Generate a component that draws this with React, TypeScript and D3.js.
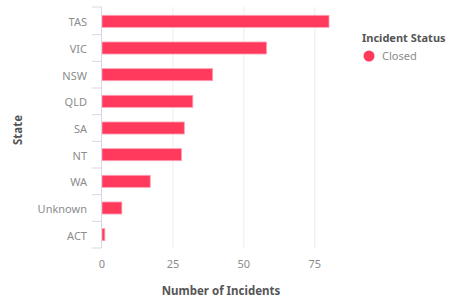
import React, { useRef, useEffect } from 'react';
import * as d3 from 'd3';

const states = ['TAS', 'VIC', 'NSW', 'QLD', 'SA', 'NT', 'WA', 'Unknown', 'ACT'];
const closedCounts = [80, 58, 39, 32, 29, 28, 17, 7, 1];
const xTicks = [0, 25, 50, 75];
const legendTitle = 'Incident Status';
const legendLabels = ['Closed'];

const font = '"Noto Sans", "Open Sans", sans-serif';
const barColor = '#ff3a5c';

const App = () => {
  const ref = useRef<SVGSVGElement>(null);

  useEffect(() => {
    const svg = d3.select(ref.current);
    svg.selectAll('*').remove();

    const x = d3.scaleLinear().domain([0, 80]).range([102, 329]);
    const y = d3.scaleBand().domain(states).range([8, 248]).paddingInner(0.55).paddingOuter(0.275);

    const g = svg.append('g');

    // grid
    g.selectAll('.grid')
      .data(xTicks.slice(1))
      .enter().append('line')
      .attr('x1', d => x(d)).attr('x2', d => x(d))
      .attr('y1', 7).attr('y2', 248)
      .attr('stroke', '#ececec').attr('stroke-width', 1);

    // bars
    g.selectAll('.bar')
      .data(states)
      .enter().append('rect')
      .attr('x', x(0))
      .attr('y', d => y(d)!)
      .attr('width', (d, i) => x(closedCounts[i]) - x(0))
      .attr('height', y.bandwidth())
      .attr('fill', barColor)
      .attr('stroke', '#ff9fb0')
      .attr('stroke-width', 0.8);

    // y axis
    const yAxis = g.append('g');
    yAxis.append('line')
      .attr('x1', 101.5).attr('x2', 101.5).attr('y1', 7).attr('y2', 248)
      .attr('stroke', '#d5d9e6');
    const bounds = states.map(s => y(s)! - (y.step() * y.paddingInner()) / 2).concat([248]);
    bounds[0] = 7;
    yAxis.selectAll('.tick')
      .data(bounds)
      .enter().append('line')
      .attr('x1', 92).attr('x2', 101.5)
      .attr('y1', d => d).attr('y2', d => d)
      .attr('stroke', '#d5d9e6');
    yAxis.selectAll('.lab')
      .data(states)
      .enter().append('text')
      .attr('x', 87)
      .attr('y', d => y(d)! + y.bandwidth() / 2 + 1)
      .attr('dy', '0.35em')
      .attr('text-anchor', 'end')
      .attr('font-family', font)
      .attr('font-size', 11)
      .attr('fill', '#8c8c8c')
      .text(d => d);

    svg.append('text')
      .attr('transform', 'translate(22,130) rotate(-90)')
      .attr('text-anchor', 'middle')
      .attr('font-family', font)
      .attr('font-size', 11.5)
      .attr('font-weight', 'bold')
      .attr('fill', '#555')
      .text('State');

    // x axis labels
    g.selectAll('.xlab')
      .data(xTicks)
      .enter().append('text')
      .attr('x', d => x(d))
      .attr('y', 264)
      .attr('dy', '0.35em')
      .attr('text-anchor', 'middle')
      .attr('font-family', font)
      .attr('font-size', 11)
      .attr('fill', '#8c8c8c')
      .text(d => d);

    svg.append('text')
      .attr('x', 221)
      .attr('y', 291)
      .attr('dy', '0.35em')
      .attr('text-anchor', 'middle')
      .attr('font-family', font)
      .attr('font-size', 11.5)
      .attr('font-weight', 'bold')
      .attr('fill', '#555')
      .text('Number of Incidents');

    // legend
    const legend = svg.append('g').attr('transform', 'translate(362,0)');
    legend.append('text')
      .attr('x', 0).attr('y', 38).attr('dy', '0.35em')
      .attr('font-family', font)
      .attr('font-size', 11)
      .attr('font-weight', 'bold')
      .attr('fill', '#555')
      .text(legendTitle);
    legendLabels.forEach((l, i) => {
      legend.append('circle')
        .attr('cx', 7).attr('cy', 56 + i * 18).attr('r', 5.5)
        .attr('fill', barColor);
      legend.append('text')
        .attr('x', 20).attr('y', 56 + i * 18).attr('dy', '0.35em')
        .attr('font-family', font)
        .attr('font-size', 11)
        .attr('fill', '#8c8c8c')
        .text(l);
    });
  }, []);

  return (
    <svg ref={ref} width="452" height="300" style={{ position: 'absolute', left: 0, top: 0 }}></svg>
  );
};

export default App;
